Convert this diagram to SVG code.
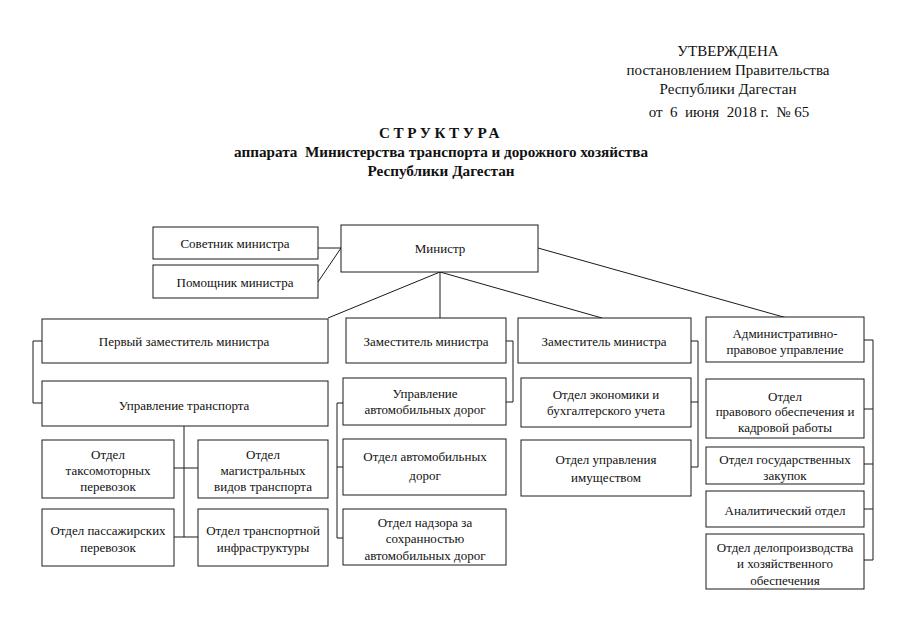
<svg xmlns="http://www.w3.org/2000/svg" width="905" height="640" viewBox="0 0 905 640">
<style>
.b{fill:#fff;stroke:#1a1a1a;stroke-width:1}
.t{font-family:"Liberation Serif","Times New Roman",serif;font-size:13px;fill:#111;text-anchor:middle}
.h{font-family:"Liberation Serif","Times New Roman",serif;font-size:15px;fill:#111;text-anchor:middle}
.hb{font-family:"Liberation Serif","Times New Roman",serif;font-size:15.2px;font-weight:bold;fill:#111;text-anchor:middle}
.c{fill:none;stroke:#1a1a1a;stroke-width:1}
</style>
<rect width="905" height="640" fill="#fff"/>
<g id="header">
<text class="h" x="728" y="56">УТВЕРЖДЕНА</text>
<text class="h" x="728" y="75">постановлением Правительства</text>
<text class="h" x="728" y="94">Республики Дагестан</text>
<text class="h" x="729" y="117" xml:space="preserve">от  6  июня  2018 г.  № 65</text>
<text class="hb" x="441" y="138" letter-spacing="3.6">СТРУКТУРА</text>
<text class="hb" x="441" y="157" xml:space="preserve">аппарата  Министерства транспорта и дорожного хозяйства</text>
<text class="hb" x="441" y="176">Республики Дагестан</text>
</g>
<g id="connectors">
<path class="c" d="M318 248H341"/>
<path class="c" d="M318 282L341 248"/>
<path class="c" d="M440 272L328 318"/>
<path class="c" d="M440 272V318"/>
<path class="c" d="M440 272L602 318"/>
<path class="c" d="M538 248L787 318"/>
<path class="c" d="M42 341H33V403H42"/>
<path class="c" d="M184 426V537"/>
<path class="c" d="M174 468H198"/>
<path class="c" d="M174 537H198"/>
<path class="c" d="M506 341H513V402H506"/>
<path class="c" d="M343 403H337V538H343M337 467H343"/>
<path class="c" d="M691 341H698V467H691M691 402H698"/>
<path class="c" d="M864 340H873V560H864M864 409H873M864 464H873M864 509H873"/>
</g>
<g id="n-sovetnik"><rect class="b" x="153" y="227" width="165" height="32"/><text class="t" x="235" y="248">Советник министра</text></g>
<g id="n-pomoshnik"><rect class="b" x="153" y="265" width="165" height="33"/><text class="t" x="235" y="287">Помощник министра</text></g>
<g id="n-ministr"><rect class="b" x="341" y="225" width="197" height="47"/><text class="t" x="440" y="253">Министр</text></g>
<g id="n-first-deputy"><rect class="b" x="42" y="319" width="286" height="44"/><text class="t" x="184" y="346">Первый заместитель министра</text></g>
<g id="n-deputy2"><rect class="b" x="346" y="318" width="160" height="45"/><text class="t" x="426" y="346">Заместитель министра</text></g>
<g id="n-deputy3"><rect class="b" x="518" y="318" width="173" height="45"/><text class="t" x="604" y="346">Заместитель министра</text></g>
<g id="n-adm"><rect class="b" x="706" y="317" width="158" height="45"/><text class="t" x="785" y="338">Административно-</text><text class="t" x="785" y="354">правовое управление</text></g>
<g id="n-upr-transport"><rect class="b" x="42" y="381" width="286" height="45"/><text class="t" x="184" y="410">Управление транспорта</text></g>
<g id="n-taxi"><rect class="b" x="42" y="440" width="132" height="58"/><text class="t" x="108" y="459">Отдел</text><text class="t" x="108" y="475">таксомоторных</text><text class="t" x="108" y="491">перевозок</text></g>
<g id="n-magistral"><rect class="b" x="198" y="440" width="130" height="58"/><text class="t" x="263" y="459">Отдел</text><text class="t" x="263" y="475">магистральных</text><text class="t" x="263" y="491">видов транспорта</text></g>
<g id="n-passenger"><rect class="b" x="42" y="509" width="132" height="57"/><text class="t" x="108" y="535">Отдел пассажирских</text><text class="t" x="108" y="552">перевозок</text></g>
<g id="n-infra"><rect class="b" x="198" y="509" width="130" height="57"/><text class="t" x="263" y="535">Отдел транспортной</text><text class="t" x="263" y="552">инфраструктуры</text></g>
<g id="n-upr-roads"><rect class="b" x="343" y="378" width="163" height="47"/><text class="t" x="425" y="398">Управление</text><text class="t" x="425" y="414">автомобильных дорог</text></g>
<g id="n-roads"><rect class="b" x="343" y="439" width="163" height="56"/><text class="t" x="425" y="461">Отдел автомобильных</text><text class="t" x="425" y="480">дорог</text></g>
<g id="n-nadzor"><rect class="b" x="343" y="509" width="163" height="56"/><text class="t" x="425" y="527">Отдел надзора за</text><text class="t" x="425" y="543">сохранностью</text><text class="t" x="425" y="560">автомобильных дорог</text></g>
<g id="n-econ"><rect class="b" x="521" y="378" width="170" height="49"/><text class="t" x="606" y="399">Отдел экономики и</text><text class="t" x="606" y="415">бухгалтерского учета</text></g>
<g id="n-property"><rect class="b" x="521" y="440" width="170" height="56"/><text class="t" x="606" y="464">Отдел управления</text><text class="t" x="606" y="482">имуществом</text></g>
<g id="n-legal"><rect class="b" x="706" y="379" width="158" height="59"/><text class="t" x="785" y="401">Отдел</text><text class="t" x="785" y="416">правового обеспечения и</text><text class="t" x="785" y="432">кадровой работы</text></g>
<g id="n-procure"><rect class="b" x="706" y="447" width="158" height="37"/><text class="t" x="785" y="464">Отдел государственных</text><text class="t" x="785" y="480">закупок</text></g>
<g id="n-analytic"><rect class="b" x="706" y="491" width="158" height="36"/><text class="t" x="785" y="515">Аналитический отдел</text></g>
<g id="n-office"><rect class="b" x="706" y="534" width="158" height="55"/><text class="t" x="785" y="552">Отдел делопроизводства</text><text class="t" x="785" y="568">и хозяйственного</text><text class="t" x="785" y="585">обеспечения</text></g>
</svg>
